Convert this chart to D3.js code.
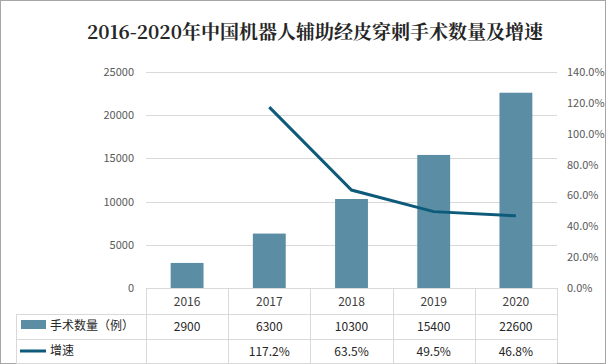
<!DOCTYPE html>
<html><head><meta charset="utf-8">
<script src="https://cdn.jsdelivr.net/npm/d3@7"></script>
<style>body{margin:0;background:#fff}svg{display:block}</style>
</head><body><div id="c"></div>
<script>
const categories = ["2016","2017","2018","2019","2020"];
const counts = [2900,6300,10300,15400,22600];
const growth = [null,117.2,63.5,49.5,46.8];
const growthLabels = ["","117.2%","63.5%","49.5%","46.8%"];
const leftTicks = [0,5000,10000,15000,20000,25000];
const rightTicks = [0,20,40,60,80,100,120,140];
const title = "2016-2020年中国机器人辅助经皮穿刺手术数量及增速";
const seriesNames = ["手术数量（例）","增速"];

const W=606,H=364;
const svg=d3.select("#c").append("svg").attr("width",W).attr("height",H);
svg.append("rect").attr("x",0.5).attr("y",0.5).attr("width",W-1).attr("height",H-1).attr("fill","#fff").attr("stroke","#a6a6a6");
const L=146,R=557,T=72,B=288;
const x=d3.scaleBand().domain(categories).range([L,R]).paddingInner(0.6).paddingOuter(0.3);
const xb=d3.scaleBand().domain(categories).range([L,R]);
const y=d3.scaleLinear().domain([0,25000]).range([B,T]);
const y2=d3.scaleLinear().domain([0,140]).range([B,T]);
const font="'Microsoft YaHei','Noto Sans CJK SC',sans-serif";

svg.append("text").attr("x",315).attr("y",39).attr("text-anchor","middle")
 .attr("font-family","'Noto Serif CJK SC','Noto Sans CJK SC',serif").attr("font-weight","bold").attr("font-size",19).attr("fill","#262626").text(title);

// gridlines
svg.append("g").selectAll("line").data(leftTicks.slice(1)).join("line")
 .attr("x1",L).attr("x2",R).attr("y1",d=>Math.round(y(d))+0.5).attr("y2",d=>Math.round(y(d))+0.5).attr("stroke","#d9d9d9");
// left axis
const la=svg.append("g").attr("transform",`translate(${L-12},0)`).call(d3.axisLeft(y).tickValues(leftTicks).tickSize(0).tickPadding(0).tickFormat(d=>String(d)));
la.select(".domain").remove();
la.selectAll("text").attr("font-family",font).attr("font-size",11).attr("fill","#595959");
const ra=svg.append("g").attr("transform",`translate(${R+10},0)`).call(d3.axisRight(y2).tickValues(rightTicks).tickSize(0).tickPadding(0).tickFormat(d=>d.toFixed(1)+"%"));
ra.select(".domain").remove();
ra.selectAll("text").attr("font-family",font).attr("font-size",11).attr("fill","#595959");

// bars
svg.append("g").selectAll("rect").data(counts).join("rect")
 .attr("x",(d,i)=>x(categories[i])).attr("width",x.bandwidth())
 .attr("y",d=>y(d)).attr("height",d=>B-y(d)).attr("fill","#5b8ea5");
// line
const pts=growth.map((g,i)=>[categories[i],g]).filter(p=>p[1]!==null);
svg.append("path").datum(pts).attr("fill","none").attr("stroke","#0e5a7a").attr("stroke-width",3)
 .attr("d",d3.line().x(p=>xb(p[0])+xb.bandwidth()/2).y(p=>y2(p[1])));

// table
const g=svg.append("g").attr("stroke","#d9d9d9").attr("shape-rendering","crispEdges");
g.append("line").attr("x1",L).attr("x2",R).attr("y1",B+0.5).attr("y2",B+0.5);
[314,339,363].forEach(yy=>g.append("line").attr("x1",16).attr("x2",R).attr("y1",yy+0.5).attr("y2",yy+0.5));
categories.concat(["end"]).forEach((c,i)=>{
  const xx=L+i*xb.bandwidth();
  g.append("line").attr("x1",Math.round(xx)+0.5).attr("x2",Math.round(xx)+0.5).attr("y1",B).attr("y2",363);
});
g.append("line").attr("x1",16.5).attr("x2",16.5).attr("y1",314).attr("y2",363);

const tf=svg.append("g").attr("font-family",font).attr("font-size",12).attr("fill","#262626").attr("text-anchor","middle");
categories.forEach((c,i)=>{
  const cx=xb(c)+xb.bandwidth()/2;
  tf.append("text").attr("x",cx).attr("y",306).text(c).attr("fill","#404040");
  tf.append("text").attr("x",cx).attr("y",331).text(counts[i]);
  tf.append("text").attr("x",cx).attr("y",356).text(growthLabels[i]);
});
svg.append("rect").attr("x",21).attr("y",320).attr("width",25).attr("height",9).attr("fill","#5b8ea5");
svg.append("line").attr("x1",20).attr("x2",46).attr("y1",351).attr("y2",351).attr("stroke","#0e5a7a").attr("stroke-width",3);
svg.append("text").attr("x",50).attr("y",330).attr("font-family",font).attr("font-size",12).attr("fill","#262626").text(seriesNames[0]);
svg.append("text").attr("x",50).attr("y",355).attr("font-family",font).attr("font-size",12).attr("fill","#262626").text(seriesNames[1]);
</script></body></html>
